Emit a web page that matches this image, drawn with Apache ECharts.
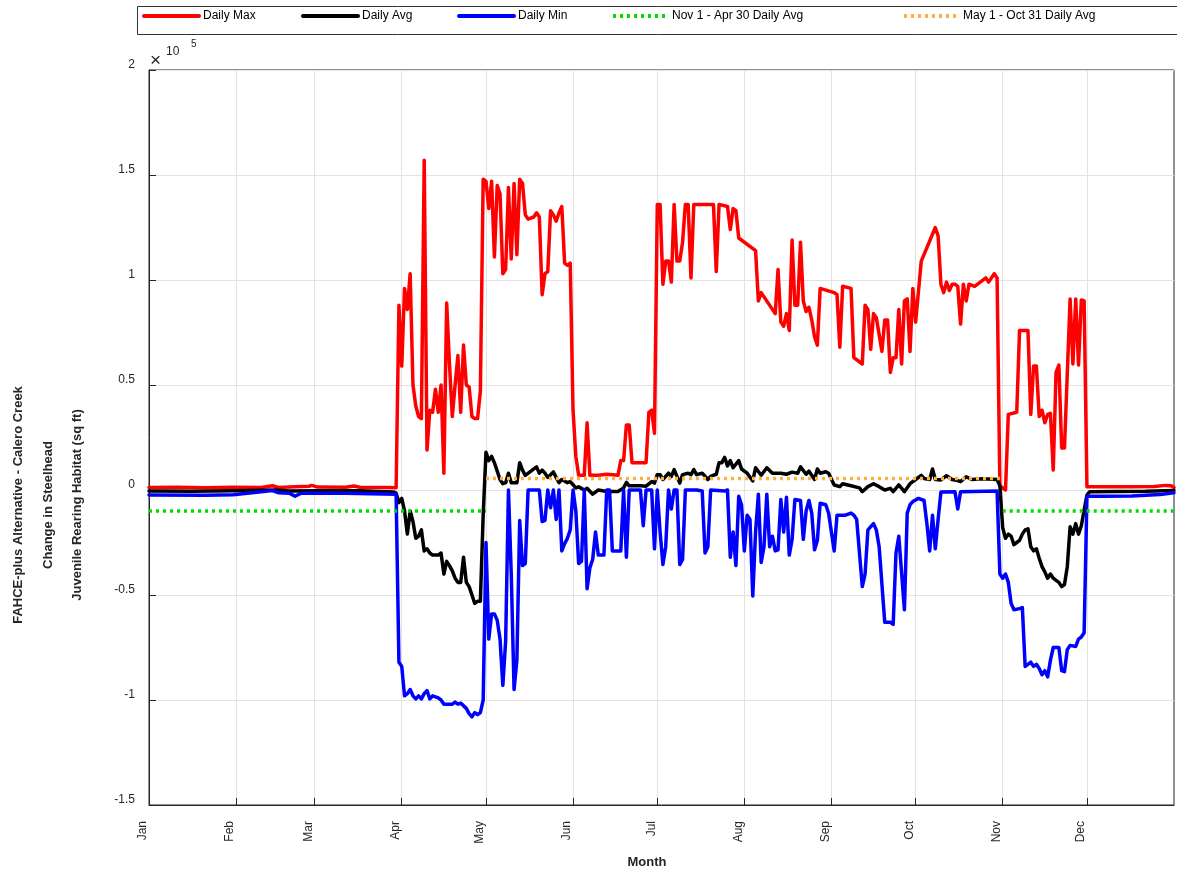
<!DOCTYPE html>
<html>
<head>
<meta charset="utf-8">
<script src="https://cdn.jsdelivr.net/npm/echarts@6/dist/echarts.min.js"></script>
<style>
html,body{margin:0;padding:0;background:#fff;}
#chart{width:1177px;height:870px;}
</style>
</head>
<body>
<div id="chart"></div>
<script>
// ---- data (day of year index 0..365, value in sq ft) ----
const monthStarts = [0, 31, 59, 90, 120, 151, 181, 212, 243, 273, 304, 334];
const monthLabels = ['Jan','Feb','Mar','Apr','May','Jun','Jul','Aug','Sep','Oct','Nov','Dec'];
const yTicks = [-150000, -100000, -50000, 0, 50000, 100000, 150000, 200000];

const dailyMax = [[0,1200],[10,1300],[20,1100],[30,1300],[40,1200],[44,2000],[46,1200],[52,1500],[57,1800],[58,2200],[60,1400],[70,1300],[73,1900],[75,1300],[85,1200],[88,1100],
[89,88000],[90,59000],[91,96000],[92,86000],[93,103000],[94,50000],[95,40000],[96,35000],[97,34000],[98,157000],[99,19000],[100,38000],[101,37000],[102,48000],[103,37000],[104,50000],[105,8000],[106,89000],[107,60000],[108,35000],[109,50000],[110,64000],[111,37000],[112,69000],[113,50000],[114,49000],[115,35000],[116,34000],[117,34000],[118,47000],
[119,148000],[120,147000],[121,134000],[122,147000],[123,111000],[124,145000],[125,141000],[126,103000],[127,105000],[128,144000],[129,110000],[130,146000],[131,112000],[132,148000],[133,146000],[134,131000],[135,129000],[137,130000],[138,132000],[139,130000],[140,93000],[141,103000],[142,104000],[143,133000],[144,131000],[145,128000],[146,132000],[147,135000],[148,108000],[149,107000],[150,108000],
[151,38000],[152,16000],[153,7000],[155,7000],[156,32000],[157,7000],[160,7000],[163,7500],[167,7000],[168,14000],[169,14000],[170,31000],[171,31000],[172,13000],[177,13000],[178,37000],[179,38000],[180,27000],
[181,136000],[182,136000],[183,98000],[184,109000],[185,109000],[186,99000],[187,136000],[188,109000],[189,109000],[190,118000],[191,136000],[192,136000],[193,101000],[194,136000],[201,136000],[202,104000],[203,136000],[206,135000],[207,124000],[208,134000],[209,133000],[210,120000],[216,114000],[217,90000],[218,94000],[223,84000],[224,105000],[225,80000],[226,78000],[227,84000],[228,76000],[229,119000],[230,88000],[231,88000],[232,118000],[233,90000],[234,85000],[235,87000],[236,81000],[237,73000],[238,69000],[239,96000],
[244,94000],[245,93000],[246,68000],[247,97000],[250,96000],[251,63000],[254,60000],[255,88000],[256,86000],[257,67000],[258,84000],[259,82000],[261,66000],[262,81000],[263,81000],[264,56000],[265,63000],[266,63000],[267,86000],[268,60000],[269,90000],[270,91000],[271,66000],[272,96000],[273,80000],[275,109000],[280,125000],[281,121000],[282,98000],[283,94000],[284,99000],[285,95000],[286,98000],[287,98000],[288,97000],[289,79000],[290,98000],[291,90000],[292,98000],[294,97000],[296,99000],[298,101000],[299,99000],[300,101000],[301,103000],[302,101000],
[303,2000],[305,0],[306,36000],[309,37000],[310,76000],[313,76000],[314,36000],[315,59000],[316,59000],[317,35000],[318,38000],[319,32000],[320,36000],[321,36500],[322,9500],[323,56000],[324,59500],[325,20000],[326,20000],[328,91000],[329,60000],[330,91000],[331,59500],[332,90500],[333,90000],
[334,1600],[340,1500],[350,1600],[358,1700],[362,2200],[364,2000],[365,1200]];

const dailyAvg = [[0,-500],[15,-600],[30,-400],[45,0],[50,-500],[60,-300],[75,-400],[87,-900],[88,-1500],
[89,-6000],[90,-4000],[91,-10000],[92,-21000],[93,-10000],[94,-15000],[95,-23000],[96,-22000],[97,-19000],[98,-29000],[99,-28000],[100,-30000],[101,-31000],[103,-31000],[104,-30000],[105,-40000],[106,-34000],[107,-36000],[108,-38500],[109,-42000],[110,-44000],[111,-44000],[112,-32000],[113,-44000],[114,-46000],[115,-50000],[116,-54000],[117,-53000],[118,-53000],
[119,-12000],[120,18000],[121,14000],[122,16000],[123,13000],[124,9000],[125,5000],[126,3000],[127,3500],[128,8000],[129,3500],[131,3500],[132,13000],[133,9500],[134,7000],[136,9000],[138,11000],[139,8000],[140,9500],[141,8000],[142,6000],[144,8600],[145,6000],[146,3500],[147,5000],[149,3500],[150,4000],[152,1000],[153,1500],[155,0],[156,800],[158,-2000],[160,0],[163,-700],[167,-700],[169,1000],[170,3600],[171,2000],[175,2000],[177,1800],[179,4000],[180,3300],
[181,7300],[182,7300],[183,5000],[185,8000],[186,6500],[187,9700],[188,6500],[189,3300],[190,7300],[192,8000],[193,7300],[194,9700],[195,7300],[197,8000],[199,5000],[200,6500],[202,7500],[203,13000],[204,13000],[205,15500],[206,11500],[207,14000],[208,10600],[210,14000],[211,10000],[213,8000],[215,4300],[216,10600],[218,7000],[220,10600],[222,8000],[225,8000],[227,7500],[229,8500],[231,8000],[232,11000],[234,7500],[235,9000],[236,7000],[237,5000],[238,10000],[239,8000],[241,8700],[242,8000],
[244,2400],[246,1600],[247,3000],[250,2000],[253,1000],[254,-800],[256,1600],[258,3000],[260,1600],[262,0],[264,800],[265,-800],[267,2400],[269,-800],[271,3000],[273,5000],[275,7000],[276,5500],[278,5000],[279,10000],[280,5000],[282,4800],[284,6800],[286,5000],[288,4500],[289,4000],[291,6300],[293,5000],[297,5400],[302,5000],[303,2000],
[304,-18000],[305,-23000],[306,-21000],[307,-22000],[308,-26000],[309,-25000],[310,-24000],[311,-21000],[312,-19000],[313,-18500],[314,-27000],[315,-29000],[316,-28000],[317,-32500],[318,-36500],[319,-39000],[320,-42000],[321,-40000],[322,-42000],[323,-43000],[324,-44000],[325,-46000],[326,-45000],[327,-36500],[328,-17500],[329,-21000],[330,-16000],[331,-21000],[332,-17000],[333,-9500],[334,-2400],[335,-800],[345,-700],[355,-600],[365,-200]];

const dailyMin = [[0,-2400],[20,-2500],[30,-2300],[35,-1500],[44,-300],[46,-1300],[50,-1500],[52,-3000],[54,-1600],[70,-1500],[88,-2000],
[89,-82000],[90,-84000],[91,-98000],[92,-97000],[93,-95000],[94,-98000],[95,-99500],[96,-98000],[97,-99500],[98,-97000],[99,-95500],[100,-99500],[101,-98000],[103,-99000],[104,-100000],[105,-102000],[108,-102000],[109,-101000],[110,-102000],[111,-101500],[113,-104000],[114,-106500],[115,-108000],[116,-106000],[117,-107000],[118,-106000],[119,-100000],
[120,-25000],[121,-71000],[122,-59000],[123,-59000],[124,-62000],[125,-71000],[126,-93000],[127,-72000],[128,0],[129,-40000],[130,-95000],[131,-81000],[132,-14500],[133,-36000],[134,-35000],[135,0],[139,0],[140,-15000],[141,-14500],[142,0],[143,-8500],[144,0],[145,-14000],[146,0],[147,-29000],[148,-25500],[149,-23000],[150,-19000],[151,0],[152,-10000],[153,-35000],[154,-34000],[155,0],[156,-47000],[157,-37000],[158,-33000],[159,-20000],[160,-31000],[162,-31000],[163,0],[164,0],[165,-29000],[168,-29000],[169,0],[170,-32000],[171,0],[175,0],[176,-17000],[177,0],[179,0],[180,-28000],
[181,0],[182,-20000],[183,-35500],[184,-27000],[185,0],[186,-9000],[187,0],[188,0],[189,-35500],[190,-33000],[191,0],[195,0],[197,-500],[198,-30000],[199,-27000],[200,0],[205,-500],[206,0],[207,-32000],[208,-20000],[209,-36000],[210,-3000],[211,-7000],[212,-29000],[213,-12000],[214,-14000],[215,-50500],[216,-20000],[217,-2000],[218,-34500],[219,-27000],[220,-2000],[221,-27000],[222,-22000],[223,-29000],[224,-28500],[225,-4500],[226,-20000],[227,-3500],[228,-31000],[229,-23500],[230,-4500],[232,-5000],[233,-23500],[234,-10000],[235,-5000],[236,-11000],[237,-28500],[238,-24000],[239,-6300],[241,-7000],[242,-11000],
[244,-29000],[245,-12000],[248,-12000],[250,-11000],[251,-12000],[252,-14000],[254,-46000],[255,-40000],[256,-19000],[258,-16000],[259,-19000],[260,-27000],[262,-63000],[264,-63000],[265,-64000],[266,-30000],[267,-22000],[269,-57000],[270,-11000],[271,-7000],[272,-5500],[274,-4000],[276,-5000],[277,-16000],[278,-29000],[279,-12000],[280,-28000],[281,-14000],[282,-1000],[287,-800],[288,-9000],[289,-800],[302,-500],
[303,-40000],[304,-42000],[305,-40000],[306,-44000],[307,-54000],[308,-57000],[310,-56500],[311,-56000],[312,-84000],[313,-83000],[314,-82000],[315,-84000],[316,-83000],[317,-85000],[318,-88000],[319,-86000],[320,-89000],[321,-81000],[322,-75000],[324,-75000],[325,-86000],[326,-86500],[327,-76000],[328,-74000],[330,-74500],[331,-71000],[332,-70000],[333,-68000],
[334,-3000],[340,-3000],[350,-2800],[360,-2200],[365,-1300]];

const winterAvg = [[0,-10000],[120,-10000],[200,'-'],[304,-10000],[365,-10000]];
const summerAvg = [[120,5500],[304,5500]];

const seriesNames = ['Daily Max','Daily Avg','Daily Min','Nov 1 - Apr 30 Daily Avg','May 1 - Oct 31 Daily Avg'];

// ---- chart ----
const FONT = '"Liberation Sans", Arial, Helvetica, sans-serif';
const days = [];
for (let i = 0; i <= 365; i++) days.push(String(i));
const isMonthStart = (i) => monthStarts.indexOf(i) >= 0;

const chart = echarts.init(document.getElementById('chart'), null, {renderer: 'canvas'});

const legendLefts = [142, 301, 457, 611, 902];
const legends = seriesNames.map((n, i) => ({
  data: [n], left: legendLefts[i], top: 10, padding: 0,
  itemWidth: 55, itemHeight: 14, itemGap: 0,
  selectedMode: false,
  itemStyle: {opacity: 0},
  lineStyle: {width: 4},
  textStyle: {fontFamily: FONT, fontSize: 12, color: '#000', padding: [0,0,0,-1]}
}));

function lineSeries(name, data, color, type, z) {
  return {
    name, type: 'line', data, symbol: 'none', showSymbol: false, z,
    connectNulls: false, animation: false,
    lineStyle: {color, width: 3.5, type: type || 'solid', cap: type ? 'butt' : 'round', join: 'round'},
    itemStyle: {color}
  };
}

chart.setOption({
  animation: false,
  backgroundColor: '#fff',
  legend: legends,
  grid: {left: 149, right: 3, top: 70, bottom: 65, show: true, borderColor: '#262626', borderWidth: 1, containLabel: false},
  xAxis: {
    type: 'category', data: days, boundaryGap: false,
    axisLine: {show: true, onZero: false, lineStyle: {color: '#262626', width: 1}},
    axisTick: {show: true, inside: true, length: 7, interval: (i) => isMonthStart(i), lineStyle: {color: '#262626'}},
    splitLine: {show: true, interval: (i) => isMonthStart(i), lineStyle: {color: '#e3e3e3', width: 1}},
    axisLabel: {
      interval: (i) => isMonthStart(i),
      formatter: (v, i) => monthLabels[monthStarts.indexOf(Number(v))] || '',
      rotate: 90, margin: 16, fontFamily: FONT, fontSize: 12, color: '#262626',
      verticalAlign: 'bottom'
    }
  },
  yAxis: {
    type: 'value', min: yTicks[0], max: yTicks[yTicks.length - 1], interval: 50000,
    axisLine: {show: true, onZero: false, lineStyle: {color: '#262626', width: 1}},
    axisTick: {show: true, inside: true, length: 7, lineStyle: {color: '#262626'}},
    splitLine: {show: true, lineStyle: {color: '#e3e3e3', width: 1}},
    axisLabel: {formatter: (v) => String(v / 100000), margin: 14, fontFamily: FONT, fontSize: 12, color: '#262626', verticalAlign: 'bottom', lineHeight: 10}
  },
  series: [
    lineSeries(seriesNames[0], dailyMax, '#ff0000', null, 2),
    lineSeries(seriesNames[1], dailyAvg, '#000000', null, 3),
    lineSeries(seriesNames[2], dailyMin, '#0000ff', null, 4),
    lineSeries(seriesNames[3], winterAvg, '#00dd00', [3, 4], 5),
    lineSeries(seriesNames[4], summerAvg, '#ffb040', [3, 4], 6)
  ],
  graphic: [
    {type: 'rect', silent: true, z: -1, shape: {x: 137.5, y: 6.5, width: 1060, height: 28},
     style: {fill: '#fff', stroke: '#333', lineWidth: 1}},
    {type: 'text', x: 150, y: 61, style: {text: '\u00d7', font: '19px ' + FONT, fill: '#262626', align: 'left', verticalAlign: 'middle', textAlign: 'left', textVerticalAlign: 'middle'}},
    {type: 'text', x: 166, y: 52, style: {text: '10', font: '12px ' + FONT, fill: '#262626', align: 'left', verticalAlign: 'middle', textAlign: 'left', textVerticalAlign: 'middle'}},
    {type: 'text', x: 191, y: 44, style: {text: '5', font: '10px ' + FONT, fill: '#262626', align: 'left', verticalAlign: 'middle', textAlign: 'left', textVerticalAlign: 'middle'}},
    {type: 'text', x: 18, y: 505, rotation: Math.PI / 2, style: {text: 'FAHCE-plus Alternative - Calero Creek', font: 'bold 13px ' + FONT, fill: '#262626', align: 'center', verticalAlign: 'middle', textAlign: 'center', textVerticalAlign: 'middle'}},
    {type: 'text', x: 48, y: 505, rotation: Math.PI / 2, style: {text: 'Change in Steelhead', font: 'bold 13px ' + FONT, fill: '#262626', align: 'center', verticalAlign: 'middle', textAlign: 'center', textVerticalAlign: 'middle'}},
    {type: 'text', x: 77, y: 505, rotation: Math.PI / 2, style: {text: 'Juvenile Rearing Habitat (sq ft)', font: 'bold 13px ' + FONT, fill: '#262626', align: 'center', verticalAlign: 'middle', textAlign: 'center', textVerticalAlign: 'middle'}},
    {type: 'text', x: 647, y: 862, style: {text: 'Month', font: 'bold 13px ' + FONT, fill: '#262626', align: 'center', verticalAlign: 'middle', textAlign: 'center', textVerticalAlign: 'middle'}}
  ]
});
</script>
</body>
</html>
